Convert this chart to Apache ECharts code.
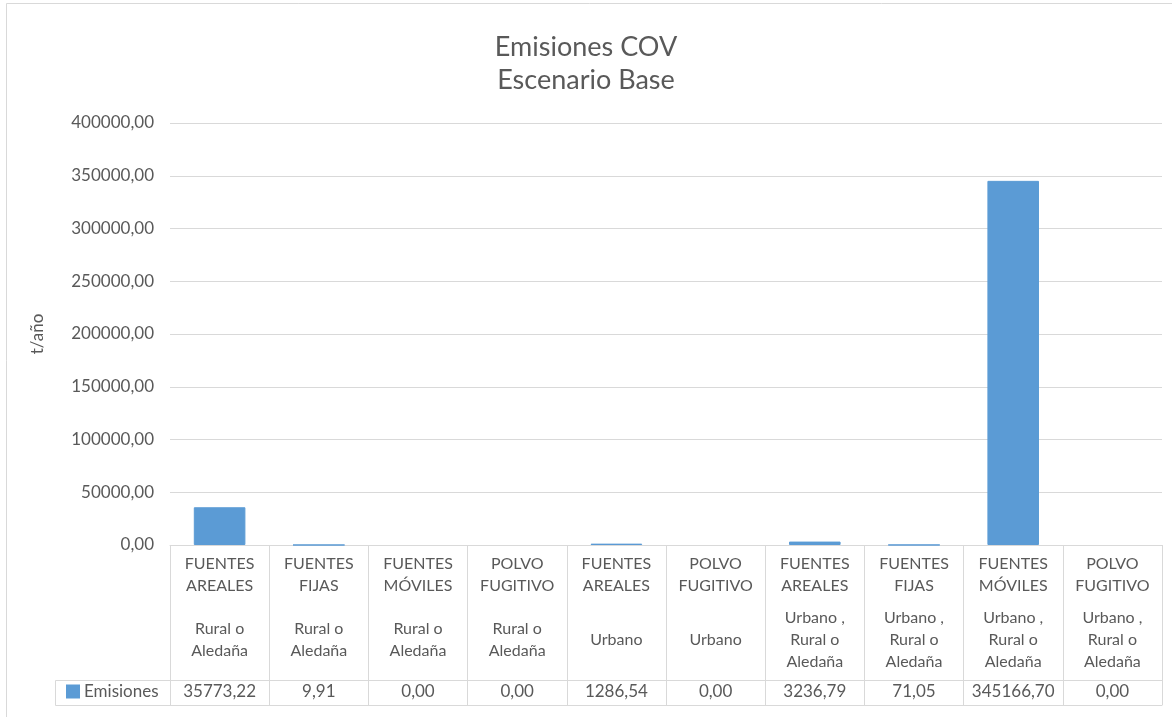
<!DOCTYPE html>
<html>
<head>
<meta charset="utf-8">
<script src="https://cdn.jsdelivr.net/npm/echarts@6/dist/echarts.min.js"></script>
<style>
  html, body { margin: 0; padding: 0; background: #fff; }
  #main { width: 1172px; height: 717px; }
</style>
</head>
<body>
<div id="main"></div>
<script>
var sourceLabels = ['FUENTES\nAREALES', 'FUENTES\nFIJAS', 'FUENTES\nMÓVILES', 'POLVO\nFUGITIVO',
  'FUENTES\nAREALES', 'POLVO\nFUGITIVO', 'FUENTES\nAREALES', 'FUENTES\nFIJAS',
  'FUENTES\nMÓVILES', 'POLVO\nFUGITIVO'];
var zoneLabels = ['Rural o\nAledaña', 'Rural o\nAledaña', 'Rural o\nAledaña', 'Rural o\nAledaña',
  'Urbano', 'Urbano', 'Urbano ,\nRural o\nAledaña', 'Urbano ,\nRural o\nAledaña',
  'Urbano ,\nRural o\nAledaña', 'Urbano ,\nRural o\nAledaña'];
var emisiones = [35773.22, 9.91, 0.00, 0.00, 1286.54, 0.00, 3236.79, 71.05, 345166.70, 0.00];
var yTicks = [0, 400000, 50000]; // min, max, interval

var categories = sourceLabels.map(function (s, i) { return s + '|' + zoneLabels[i]; });

function fmt(v) { return v.toFixed(2).replace('.', ','); }

var txt = '#595959';
var line = '#d9d9d9';
var font = 'Lato, "Open Sans", sans-serif';

var myChart = echarts.init(document.getElementById('main'));
var option = {
  backgroundColor: '#fff',
  textStyle: { fontFamily: font },
  title: {
    text: 'Emisiones COV\nEscenario Base',
    left: 'center',
    top: 26,
    textStyle: { fontSize: 27, lineHeight: 33, fontWeight: 'normal', color: txt, fontFamily: font }
  },
  legend: {
    data: ['Emisiones'],
    left: 66,
    top: 683,
    padding: 0,
    icon: 'rect',
    itemWidth: 12,
    itemHeight: 12,
    itemGap: 5,
    textStyle: { fontSize: 17, color: txt, fontFamily: font }
  },
  grid: { left: 170, right: 10, top: 123, bottom: 172 },
  xAxis: [
    {
      type: 'category',
      data: categories,
      axisLine: { lineStyle: { color: line, width: 1 } },
      axisTick: { show: true, length: 160, interval: 0, lineStyle: { color: line } },
      axisLabel: {
        interval: 0, margin: 8, fontSize: 16, lineHeight: 22, color: txt, fontFamily: font,
        formatter: function (v) { return v.split('|')[0]; }
      }
    },
    {
      type: 'category',
      data: categories,
      position: 'bottom',
      offset: 95,
      axisLine: { show: false },
      axisTick: { show: false },
      axisLabel: {
        interval: 0, margin: 0, verticalAlign: 'middle', fontSize: 16, lineHeight: 22,
        color: txt, fontFamily: font,
        formatter: function (v) { return v.split('|')[1]; }
      }
    },
    {
      type: 'category',
      data: categories,
      position: 'bottom',
      offset: 135,
      axisLine: { show: true, lineStyle: { color: line } },
      axisTick: { show: false },
      axisLabel: {
        interval: 0, margin: 12, verticalAlign: 'middle', fontSize: 17, color: txt, fontFamily: font,
        formatter: function (v, i) { return fmt(emisiones[i]); }
      }
    },
    {
      type: 'category',
      data: categories,
      position: 'bottom',
      offset: 160,
      axisLine: { show: true, lineStyle: { color: line } },
      axisTick: { show: false },
      axisLabel: { show: false }
    }
  ],
  yAxis: {
    type: 'value',
    min: yTicks[0],
    max: yTicks[1],
    interval: yTicks[2],
    name: 't/año',
    nameLocation: 'middle',
    nameRotate: 90,
    nameGap: 124,
    nameTextStyle: { fontSize: 17, color: txt, fontFamily: font },
    axisLine: { show: false },
    axisTick: { show: false },
    splitLine: { lineStyle: { color: line } },
    axisLabel: { margin: 16, fontSize: 17, color: txt, fontFamily: font, formatter: fmt }
  },
  graphic: [
    { type: 'rect', shape: { x: 6.5, y: 3.5, width: 1300, height: 800 }, style: { fill: 'none', stroke: line, lineWidth: 1 }, silent: true },
    { type: 'rect', shape: { x: 55.5, y: 680.5, width: 115, height: 25 }, style: { fill: 'none', stroke: line, lineWidth: 1 }, silent: true }
  ],
  series: [{
    name: 'Emisiones',
    type: 'bar',
    barCategoryGap: '48%',
    itemStyle: { color: '#5b9bd5', borderColor: '#5b9bd5', borderWidth: 1 },
    data: emisiones.map(function (v) {
      return v > 0 ? v : { value: v, itemStyle: { borderWidth: 0 } };
    })
  }]
};
myChart.setOption(option);
</script>
</body>
</html>
